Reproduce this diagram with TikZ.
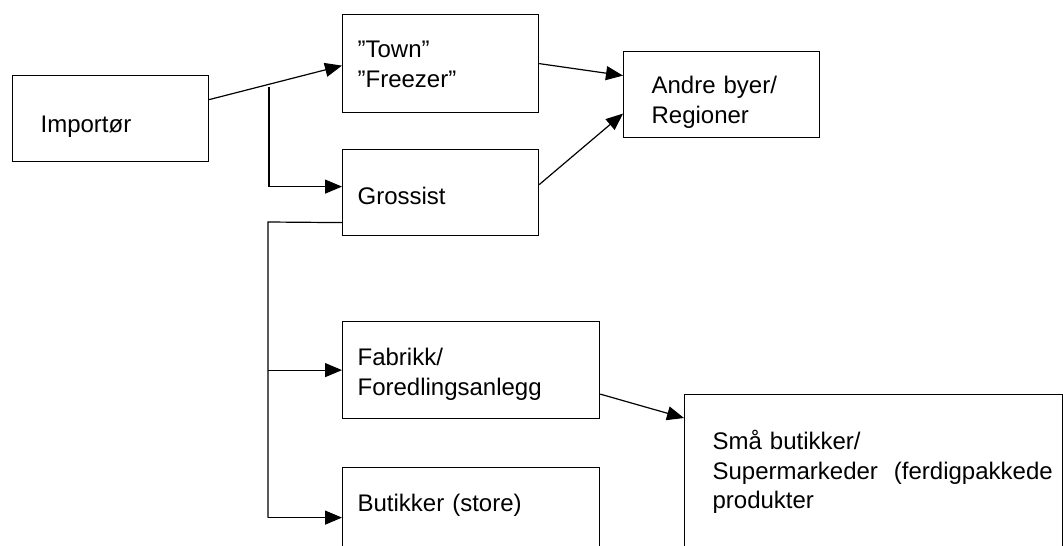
\documentclass[tikz,border=0pt]{standalone}
\usepackage{fontspec}
\setmainfont{Liberation Sans}
\usetikzlibrary{arrows.meta,
	positioning}
\hfuzz=60pt
\tikzstyle{box}=[draw, line width=1.2pt, anchor=north west, align=left, inner ysep=0pt,
		font=\fontsize{24}{29.5}\selectfont]
\tikzstyle{wide}=[inner xsep=28pt]
\tikzstyle{narrow}=[inner xsep=15pt]
\tikzstyle{arr}=[line width=1.2pt, -{Triangle[length=17pt, width=14pt]}]

\begin{document}
\begin{tikzpicture}[x=1pt, y=-1pt]
        \useasboundingbox (0,0) rectangle (1063,546);
        \clip (0,0) rectangle (1063,546);
        \node[box, wide, text width=140pt, text height=57pt, text depth=29pt] (imp) at (12,75) {Importør};
        \node[box, narrow, text width=166pt, text height=43pt, text depth=55pt] (town) at (342,14) {”Town”\\”Freezer”};
        \node[box, wide, text width=140pt, text height=42pt, text depth=44pt] (andre) at (623,51) {Andre byer/\\Regioner};
        \node[box, narrow, text width=166pt, text height=55pt, text depth=31pt] (gross) at (342,149) {Grossist};
        \node[box, narrow, text width=227pt, text height=44pt, text depth=53pt] (fab) at (342,321) {Fabrikk/\\Foredlingsanlegg};
        \node[box, narrow, text width=227pt, text height=44pt, text depth=56pt] (but) at (342,467) {Butikker (store)};
        \node[box, wide, text width=322pt, text height=55pt, text depth=150pt] (sma) at (684,394) {Små butikker/\\\mbox{Supermarkeder~~(ferdigpakkede}\\produkter};
        \coordinate (split) at (269,87);
        \coordinate (trunk) at (268,222);
        \draw[arr] ([yshift=19pt]imp.east) -- ([yshift=-2pt]town.west);
        \draw[arr] (split) |- ([yshift=6pt]gross.west);
        \draw[arr] (town.east) -- ([yshift=19pt]andre.west);
        \draw[arr] ([yshift=8pt]gross.east) -- ([yshift=-19pt]andre.west);
        \draw[line width=1.2pt] ([yshift=-30pt]gross.west) -- (trunk) -- (trunk |- but.west);
        \draw[arr] (trunk |- fab.west) -- (fab.west);
        \draw[arr] (trunk |- but.west) -- (but.west);
        \draw[arr] ([yshift=-24pt]fab.east) -- ([yshift=-24pt]sma.north west);
    \end{tikzpicture}
\end{document}
